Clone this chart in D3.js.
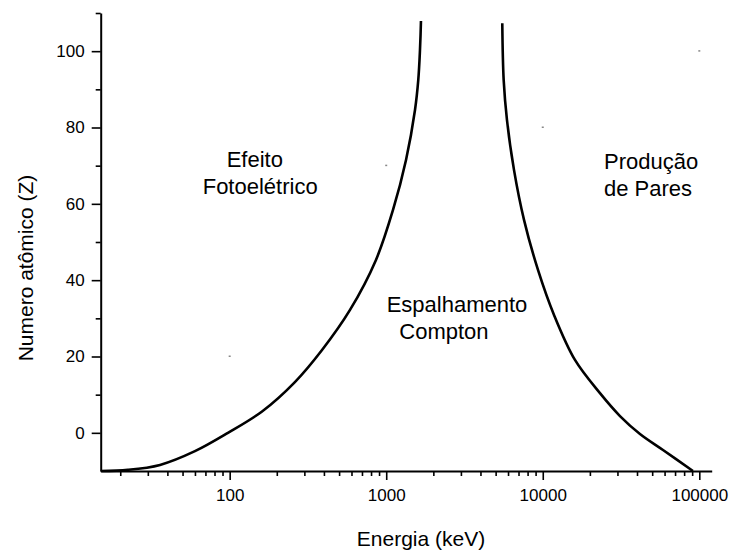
<!DOCTYPE html>
<html>
<head>
<meta charset="utf-8">
<script src="https://cdn.jsdelivr.net/npm/d3@7/dist/d3.min.js"></script>
<style>
  html, body { margin: 0; padding: 0; background: #fff; }
  svg { display: block; font-family: "Liberation Sans", Arial, sans-serif; }
</style>
</head>
<body>
<svg id="chart" width="731" height="552"></svg>
<script>
// Boundary between photoelectric effect and Compton scattering (energy keV, Z)
const photoComptonE = [15, 22.4, 35.9, 60, 97.5, 161, 261, 389, 587, 860, 1105, 1338, 1527, 1602, 1643, 1667];
const photoComptonZ = [-10, -9.7, -8.4, -4.8, 0, 5.6, 13.3, 21.7, 32.2, 45.3, 58.4, 71.5, 84.6, 92.4, 100.3, 107.9];

// Boundary between Compton scattering and pair production (energy keV, Z)
const comptonPairE = [5513, 5628, 5906, 6549, 7590, 9322, 11800, 16060, 23200, 31140, 41780, 58620, 91100];
const comptonPairZ = [107.3, 92.4, 82.0, 68.9, 55.8, 42.7, 30.9, 19.1, 10.4, 4.4, -0.3, -4.5, -10.0];

// Small stray markers
const markE = [100, 1000, 10000, 100000];
const markZ = [20, 70, 80, 100];

// Axis ticks
const xMajorTicks = [100, 1000, 10000, 100000];
const xMinorTicks = [20, 30, 40, 50, 60, 70, 80, 90,
                     200, 300, 400, 500, 600, 700, 800, 900,
                     2000, 3000, 4000, 5000, 6000, 7000, 8000, 9000,
                     20000, 30000, 40000, 50000, 60000, 70000, 80000, 90000];
const yMajorTicks = [0, 20, 40, 60, 80, 100];
const yMinorTicks = [10, 30, 50, 70, 90, 110];

// Region labels (two lines each)
const regionLines = [
  ["Efeito", "Fotoelétrico"],
  ["Espalhamento", "Compton"],
  ["Produção", "de Pares"]
];

const svg = d3.select("#chart");
const x = d3.scaleLog().domain([15, 120000]).range([100.7, 711.7]);
const y = d3.scaleLinear().domain([-10, 110]).range([471, 13]);

const fontTick = 17, fontTitle = 21, fontLabel = 22;

// X axis: minor then major ticks
const gxMinor = svg.append("g").attr("transform", `translate(0,${y(-10)})`)
  .call(d3.axisBottom(x).tickValues(xMinorTicks).tickSize(5).tickFormat(""));
gxMinor.select(".domain").remove();
const gx = svg.append("g").attr("transform", `translate(0,${y(-10)})`)
  .call(d3.axisBottom(x).tickValues(xMajorTicks).tickSize(9).tickSizeOuter(0).tickFormat(d3.format("d")));

// Y axis
const gyMinor = svg.append("g").attr("transform", `translate(${x(15)},0)`)
  .call(d3.axisLeft(y).tickValues(yMinorTicks).tickSize(5).tickFormat(""));
gyMinor.select(".domain").remove();
const gy = svg.append("g").attr("transform", `translate(${x(15)},0)`)
  .call(d3.axisLeft(y).tickValues(yMajorTicks).tickSize(9).tickSizeOuter(0).tickFormat(d3.format("d")));

svg.selectAll(".tick line").attr("stroke", "#000").attr("stroke-width", 1.6);
svg.selectAll(".domain").attr("stroke", "#000").attr("stroke-width", 2);
svg.selectAll(".tick text").attr("fill", "#000").attr("font-size", fontTick)
  .attr("font-family", "Liberation Sans, Arial, sans-serif");
gx.selectAll(".tick text").attr("y", 12).attr("dy", "1.05em");
gy.selectAll(".tick text").attr("x", -16);

// Curves
const line = d3.line().x(d => x(d[0])).y(d => y(d[1])).curve(d3.curveCatmullRom.alpha(0.5));
svg.append("path")
  .datum(photoComptonE.map((e, i) => [e, photoComptonZ[i]]))
  .attr("d", line).attr("fill", "none").attr("stroke", "#000").attr("stroke-width", 2.6);
svg.append("path")
  .datum(comptonPairE.map((e, i) => [e, comptonPairZ[i]]))
  .attr("d", line).attr("fill", "none").attr("stroke", "#000").attr("stroke-width", 2.6);

// Tiny markers
svg.selectAll("rect.mark").data(markE.map((e, i) => [e, markZ[i]])).enter()
  .append("rect").attr("class", "mark")
  .attr("x", d => x(d[0]) - 1).attr("y", d => y(d[1]) - 1)
  .attr("width", 2).attr("height", 1.5).attr("fill", "#888");

// Region labels
const labelPos = [
  [[226.7, 167.3], [202.7, 194.3]],
  [[386.7, 312.3], [399.3, 338.7]],
  [[604, 169.3], [604, 195.5]]
];
regionLines.forEach((lines, i) => {
  lines.forEach((t, j) => {
    svg.append("text").attr("x", labelPos[i][j][0]).attr("y", labelPos[i][j][1])
      .attr("font-size", fontLabel).attr("fill", "#000").text(t);
  });
});

// Axis titles
svg.append("text").attr("x", 421).attr("y", 546).attr("text-anchor", "middle")
  .attr("font-size", fontTitle).attr("fill", "#000").text("Energia (keV)");
svg.append("text").attr("transform", "translate(33,268) rotate(-90)").attr("text-anchor", "middle")
  .attr("font-size", fontTitle).attr("fill", "#000").text("Numero atômico (Z)");
</script>
</body>
</html>
